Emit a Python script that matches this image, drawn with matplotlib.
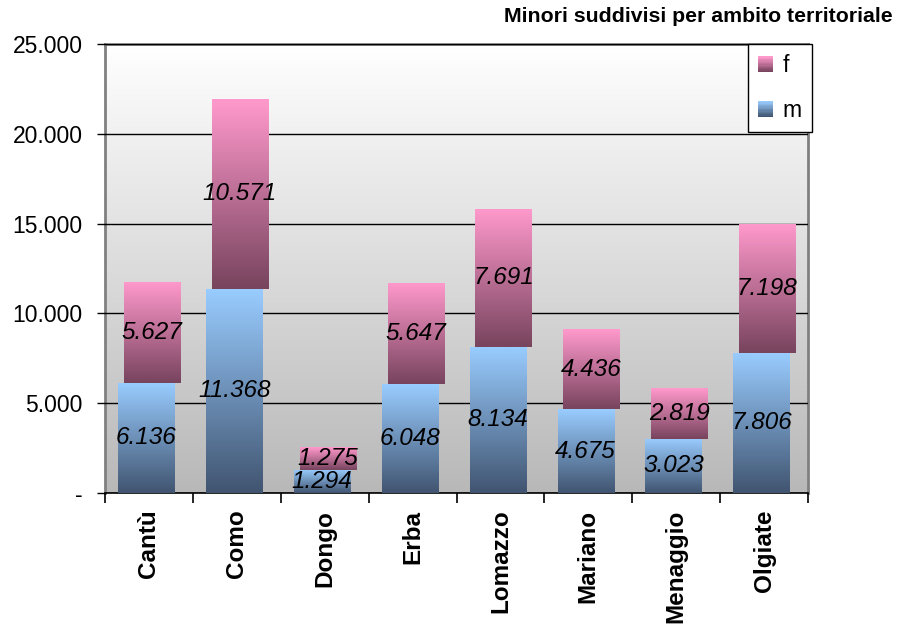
import numpy as np
import matplotlib.pyplot as plt
from matplotlib.patches import Rectangle
from matplotlib.legend_handler import HandlerBase
from matplotlib.ticker import FixedLocator

# dati
ambiti = ['Cantù', 'Como', 'Dongo', 'Erba', 'Lomazzo', 'Mariano', 'Menaggio', 'Olgiate']
maschi = [6136, 11368, 1294, 6048, 8134, 4675, 3023, 7806]
femmine = [5627, 10571, 1275, 5647, 7691, 4436, 2819, 7198]
y_ticks = [0, 5000, 10000, 15000, 20000, 25000]

plt.rcParams['font.family'] = ['Liberation Sans', 'DejaVu Sans']

# colori (alto, basso) per i gradienti
col_m = ('#99ccff', '#415571')
col_f = ('#ff99cc', '#78445e')


def gradiente(top, bottom, n=64):
    a = np.array(plt.matplotlib.colors.to_rgb(top))
    b = np.array(plt.matplotlib.colors.to_rgb(bottom))
    t = np.linspace(0, 1, n)[:, None]
    return (a * (1 - t) + b * t)[:, None, :]


class HandlerGradiente(HandlerBase):
    def __init__(self, cols, **kw):
        super().__init__(**kw)
        self.cols = cols

    def create_artists(self, legend, orig_handle, xdescent, ydescent,
                       width, height, fontsize, trans):
        n = 12
        g = gradiente(*self.cols, n=n)[:, 0, :]
        out = []
        h = height / n
        for i in range(n):
            r = Rectangle((-xdescent, -ydescent + height - (i + 1) * h), width, h * 1.05,
                          facecolor=g[i], edgecolor='none', transform=trans)
            out.append(r)
        return out


fig = plt.figure(figsize=(8.97, 6.25), dpi=100)
ax = fig.add_axes([105 / 897, 132 / 625, 703 / 897, 449 / 625])

# sfondo sfumato
bg = gradiente('#ffffff', '#b8b8b8', 256)
ax.imshow(bg, extent=(0, 1, 0, 1), transform=ax.transAxes, aspect='auto', zorder=0)

x = np.arange(len(ambiti))
w = 0.64
bars_m = ax.bar(x - 0.03, maschi, w, color='none', zorder=3)
bars_f = ax.bar(x + 0.035, femmine, w, bottom=maschi, color='none', zorder=3)

for bars, cols in ((bars_m, col_m), (bars_f, col_f)):
    img = gradiente(*cols)
    for b in bars:
        x0, y0 = b.get_x(), b.get_y()
        im = ax.imshow(img, extent=(x0, x0 + b.get_width(), y0, y0 + b.get_height()),
                       aspect='auto', zorder=3, interpolation='bilinear')
        im.set_clip_path(b)

fmt = lambda v: f'{v:,}'.replace(',', '.')
for i in range(len(ambiti)):
    ax.text(x[i] - 0.03, maschi[i] / 2, fmt(maschi[i]), ha='center', va='center',
            fontsize=17.5, style='italic', zorder=5)
    ax.text(x[i] + 0.035, maschi[i] + femmine[i] / 2, fmt(femmine[i]), ha='center',
            va='center', fontsize=17.5, style='italic', zorder=5)

ax.set_xlim(-0.5, len(ambiti) - 0.5)
ax.set_ylim(0, 25000)
ax.set_yticks(y_ticks)
ax.set_yticklabels(['-' if v == 0 else fmt(v) for v in y_ticks], fontsize=16.5)
ax.yaxis.grid(True, color='black', linewidth=1)
ax.set_axisbelow(False)
for gl in ax.get_ygridlines():
    gl.set_zorder(1)

ax.set_xticks(x)
ax.set_xticklabels(ambiti, rotation=90, fontsize=17.5, fontweight='bold')
ax.xaxis.set_minor_locator(FixedLocator(np.arange(-0.5, len(ambiti), 1.0)))
ax.tick_params(axis='x', which='major', length=0, pad=12)
ax.tick_params(axis='x', which='minor', length=7, width=1.2, direction='out')
ax.tick_params(axis='y', length=6, width=1, direction='out', pad=10)

for s in ('left', 'top', 'right'):
    ax.spines[s].set_color('#808080')
    ax.spines[s].set_linewidth(2)
ax.spines['bottom'].set_color('black')
ax.spines['bottom'].set_linewidth(1.2)

leg = ax.legend([bars_f, bars_m], ['f', 'm'],
                handler_map={bars_f: HandlerGradiente(col_f), bars_m: HandlerGradiente(col_m)},
                loc='upper right', bbox_to_anchor=(812 / 897, 581 / 625),
                bbox_transform=fig.transFigure, fontsize=16.5, frameon=True,
                fancybox=False, framealpha=1, edgecolor='black',
                handlelength=0.68, handleheight=0.68, handletextpad=0.4,
                labelspacing=0.95, borderpad=0.45, borderaxespad=0)
leg.get_frame().set_linewidth(1)
leg.set_zorder(10)

fig.text(893 / 897, 1 - 16 / 625, 'Minori suddivisi per ambito territoriale',
         ha='right', va='center', fontsize=15.3, fontweight='bold')

fig.savefig('out.png', dpi=100)
